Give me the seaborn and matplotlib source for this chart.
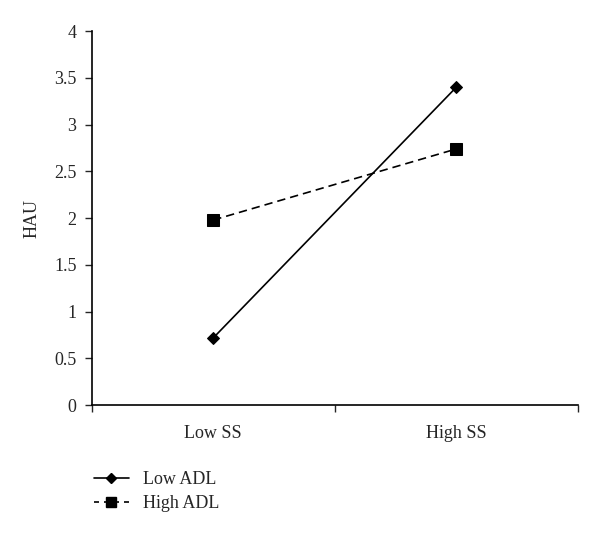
import pandas as pd
import numpy as np
import matplotlib
matplotlib.use('Agg')
import matplotlib.pyplot as plt
import seaborn as sns

# Data
ss_levels = ['Low SS', 'High SS']
low_adl = [0.72, 3.40]
high_adl = [1.98, 2.74]
groups = ['Low ADL', 'High ADL']
y_ticks = [0, 0.5, 1, 1.5, 2, 2.5, 3, 3.5, 4]

df = pd.DataFrame({
    'SS': ss_levels * 2,
    'HAU': low_adl + high_adl,
    'ADL': [groups[0]] * 2 + [groups[1]] * 2,
})
df['x'] = df['SS'].map({s: i for i, s in enumerate(ss_levels)})

sns.set_style('white')
plt.rcParams['font.family'] = ['Liberation Serif', 'DejaVu Serif']

fig = plt.figure(figsize=(6, 5.36), dpi=100)
ax = fig.add_axes([0.153, 0.244, 0.81, 0.698])

sns.lineplot(data=df, x='x', y='HAU', style='ADL', style_order=groups,
             markers={'Low ADL': 'D', 'High ADL': 's'},
             dashes={'Low ADL': '', 'High ADL': (5, 3)},
             color='black', linewidth=1.2, ax=ax, legend=False)
for line, ms in zip(ax.lines, [6, 8]):
    line.set_markersize(ms)
    line.set_markerfacecolor('black')
    line.set_markeredgecolor('black')

ax.set_xlim(-0.5, 1.5)
ax.set_ylim(0, 4)
ax.set_yticks(y_ticks)
ax.set_yticklabels([f'{t:g}' for t in y_ticks])
ax.set_xticks([-0.5, 0.5, 1.5])
ax.set_xticklabels([])
ax.set_xticks(range(len(ss_levels)), minor=True)
ax.set_xticklabels(ss_levels, minor=True)
ax.tick_params(axis='x', which='minor', length=0, pad=14, labelsize=13)
ax.tick_params(axis='x', which='major', direction='out', length=5, width=1, bottom=True)
ax.tick_params(axis='y', direction='out', length=5, width=1, left=True, labelsize=13, pad=6)
sns.despine(ax=ax)
for sp in ['left', 'bottom']:
    ax.spines[sp].set_color('black')
    ax.spines[sp].set_linewidth(1.2)
ax.set_xlabel('')
ax.set_ylabel('HAU', fontsize=13, labelpad=10)

handles = [
    plt.Line2D([], [], color='black', marker='D', markersize=5, linewidth=1.2),
    plt.Line2D([], [], color='black', marker='s', markersize=6.5, linewidth=1.2, dashes=(3, 3)),
]
fig.legend(handles, groups, loc='upper left', bbox_to_anchor=(0.145, 0.135),
           frameon=False, fontsize=13, handlelength=1.9, handletextpad=0.8,
           labelspacing=0.4, borderaxespad=0)

fig.savefig('out.png', dpi=100)
